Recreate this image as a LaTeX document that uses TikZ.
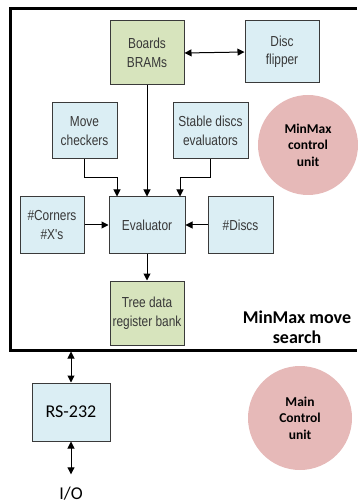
\documentclass[tikz,border=0pt]{standalone}
\usepackage{fontspec}
\setmainfont{Carlito}
\newfontfamily\boxfont[FakeStretch=0.82]{Liberation Sans}
\usetikzlibrary{arrows.meta}
\definecolor{boxblue}{HTML}{DBEEF4}
\definecolor{boxgreen}{HTML}{D7E4BD}
\definecolor{circred}{HTML}{E6B9B8}
\definecolor{edgegray}{HTML}{3A3A3A}
\tikzset{
  blk/.style={draw=edgegray, line width=1pt, fill=boxblue, align=center, inner sep=1pt,
    font=\boxfont\fontsize{14.5}{18.5}\selectfont, text=black!78},
  grn/.style={blk, fill=boxgreen},
  ctl/.style={circle, fill=circred, align=center, font=\bfseries\fontsize{13.5}{16.5}\selectfont},
  arr/.style={line width=1pt, -{Triangle[length=7pt,width=7pt]}},
  darr/.style={line width=1pt, {Triangle[length=7pt,width=7pt]}-{Triangle[length=7pt,width=7pt]}},
}
\begin{document}
\begin{tikzpicture}[x=1pt,y=-1pt]
\useasboundingbox (0,0) rectangle (357,502);
% outer frame
\coordinate (fTR) at (357,9);
\coordinate (fTL) at (10,9);
\coordinate (fBL) at (10,350);
\coordinate (fBR) at (357,350);
\draw[line width=3pt] (fTR) -- (fTL) -- (fBL) -- (fBR);
% blocks
\node[grn, minimum width=74, minimum height=64] (boards) at (147,53) {Boards\\BRAMs};
\node[blk, minimum width=74, minimum height=62] (flip) at (282,52) {Disc\\flipper};
\node[blk, minimum width=65, minimum height=56] (move) at (84.5,131) {Move\\checkers};
\node[blk, minimum width=75, minimum height=56] (stable) at (210.5,131) {Stable discs\\evaluators};
\node[blk, minimum width=64, minimum height=56] (corners) at (52,225) {\#Corners\\\#X's};
\node[blk, minimum width=76, minimum height=56] (eval) at (147,225) {Evaluator};
\node[blk, minimum width=65, minimum height=56] (discs) at (240.5,225) {\#Discs};
\node[grn, minimum width=74, minimum height=64] (tree) at (147,313) {Tree data\\register bank};
\node[blk, minimum width=78, minimum height=58, font=\fontsize{18}{20}\selectfont, text=black] (rs) at (71,412) {RS-232};
\node[font=\fontsize{18}{20}\selectfont, inner sep=0pt, anchor=base] (io) at (71,499) {I/O};
\node[ctl, minimum size=100] (mmctl) at (308,145) {MinMax\\control\\unit};
\node[ctl, minimum size=104] (mainctl) at (300,418) {Main\\Control\\unit};
\node[align=center, font=\bfseries\fontsize{18}{20}\selectfont, inner sep=0pt] (mmlabel) at (297,327) {MinMax move\\search};
\coordinate (fbot) at (rs.north |- fBL);
% connectors
\draw[darr] (boards.east) -- (flip.west);
\draw[arr] (boards.south) -- (eval.north);
\draw[arr] (move.south) -- ++(0,18) -| ([xshift=-30]eval.north);
\draw[arr] (stable.south) -- ++(0,18) -| ([xshift=33]eval.north);
\draw[arr] (corners.east) -- (eval.west);
\draw[arr] (discs.west) -- (eval.east);
\draw[arr] (eval.south) -- (tree.north);
\draw[darr] ([yshift=-1.5]fbot) -- (rs.north);
\draw[darr] (rs.south) -- ([yshift=12]io.north);
\end{tikzpicture}
\end{document}
